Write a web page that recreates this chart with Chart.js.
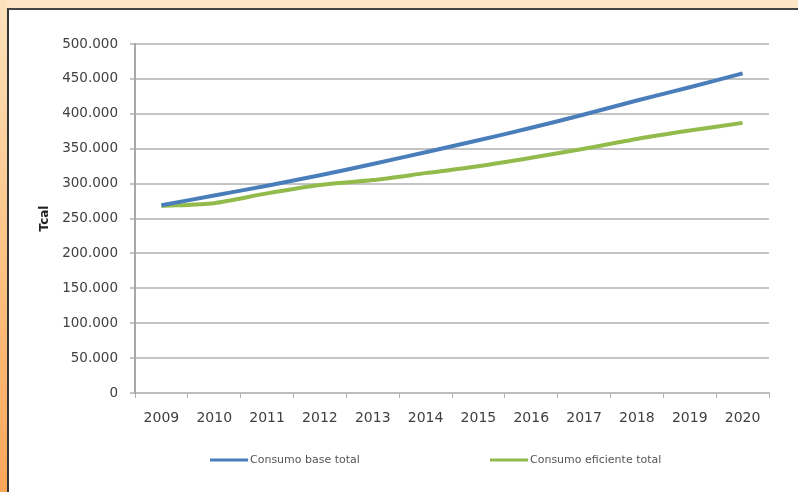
<!DOCTYPE html>
<html>
<head>
<meta charset="utf-8">
<script src="https://cdn.jsdelivr.net/npm/chart.js@4.4.1/dist/chart.umd.min.js"></script>
<style>
  body { margin: 0; }
  #wrap { position: relative; width: 798px; height: 492px; background: #fff; overflow: hidden; }
  #topband { position: absolute; left: 0; top: 0; width: 798px; height: 8px; background: #fde5c6; }
  #leftband { position: absolute; left: 0; top: 0; width: 7px; height: 492px;
              background: linear-gradient(to bottom, #fde2bd 0%, #fcc487 50%, #fba65a 100%); }
  #panel { position: absolute; left: 7px; top: 8px; right: 0; bottom: 0;
           border-left: 2px solid #333; border-top: 2px solid #444; background: #fff; }
  canvas { position: absolute; left: 0; top: 0; }
</style>
</head>
<body>
<div id="wrap">
  <div id="topband"></div>
  <div id="leftband"></div>
  <div id="panel"></div>
  <canvas id="chart" width="798" height="492"></canvas>
</div>
<script>
document.addEventListener("DOMContentLoaded", () => {
    // Years on the x axis
    const years = ["2009", "2010", "2011", "2012", "2013", "2014", "2015", "2016", "2017", "2018", "2019", "2020"];
    // Values in Tcal
    const consumoBase = [269000, 283000, 297000, 312000, 328000, 345000, 362000, 380000, 399000, 419000, 438000, 458000];
    const consumoEficiente = [268000, 272000, 286000, 298000, 305000, 315000, 325000, 337000, 350000, 364000, 376000, 387000];
    const seriesNames = ["Consumo base total", "Consumo eficiente total"];
    const seriesColors = ["#4a7ebb", "#92bb4c"];

    // dotted thousands, like 500.000
    const fmt = v => String(v).replace(/\B(?=(\d{3})+(?!\d))/g, ".");

    // Legend drawn under the plot, same spacing as the original
    const bottomLegend = {
        id: "bottomLegend",
        afterDraw(chart) {
            const ctx = chart.ctx;
            const xs = [210, 490];
            const y = 460;
            ctx.save();
            ctx.font = '11px "DejaVu Sans"';
            ctx.textBaseline = "middle";
            ctx.fillStyle = "#555";
            chart.data.datasets.forEach((ds, i) => {
                ctx.strokeStyle = ds.borderColor;
                ctx.lineWidth = 3;
                ctx.beginPath();
                ctx.moveTo(xs[i], y);
                ctx.lineTo(xs[i] + 38, y);
                ctx.stroke();
                ctx.fillText(ds.label, xs[i] + 40, y);
            });
            ctx.restore();
        }
    };

    const ctx = document.getElementById("chart").getContext("2d");
    new Chart(ctx, {
        type: "line",
        data: {
            labels: years,
            datasets: [
                { label: seriesNames[0], data: consumoBase, borderColor: seriesColors[0], borderWidth: 4, pointRadius: 0, tension: 0.25, fill: false },
                { label: seriesNames[1], data: consumoEficiente, borderColor: seriesColors[1], borderWidth: 4, pointRadius: 0, tension: 0.25, fill: false }
            ]
        },
        options: {
            responsive: false,
            animation: false,
            layout: { padding: { left: 30, right: 29, top: 44, bottom: 59 } },
            plugins: {
                legend: { display: false },
                tooltip: { enabled: false }
            },
            scales: {
                x: {
                    offset: true,
                    grid: { offset: true, drawOnChartArea: false, drawTicks: true, tickLength: 5, color: "#b0b0b0", lineWidth: 1 },
                    border: { color: "#bdbdbd", width: 2 },
                    ticks: { color: "#404040", font: { family: "DejaVu Sans", size: 14 }, padding: 12, maxRotation: 0 },
                    afterFit(scale) { scale.height = 40; }
                },
                y: {
                    min: 0,
                    max: 500000,
                    ticks: { stepSize: 50000, color: "#404040", font: { family: "DejaVu Sans", size: 13.5 }, padding: 12, callback: v => fmt(v) },
                    grid: { color: "#c4c4c4", lineWidth: 2, tickLength: 5 },
                    border: { color: "#a8a8a8", width: 2 },
                    title: { display: true, text: "Tcal", color: "#222", font: { family: "DejaVu Sans", size: 12, weight: "bold" }, padding: 8 },
                    afterFit(scale) { scale.width = 105; }
                }
            }
        },
        plugins: [bottomLegend]
    });
});
</script>
</body>
</html>
